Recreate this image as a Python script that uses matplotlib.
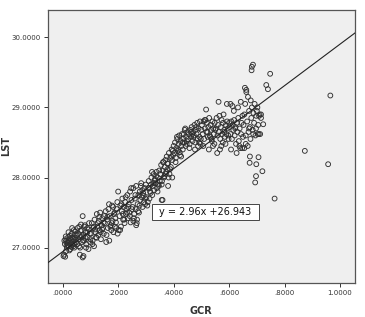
import matplotlib
matplotlib.use("Agg")
import matplotlib.pyplot as plt
from matplotlib.patches import Rectangle

# GCR / LST values, grouped by GCR band
gcr = [
    # .00 - .05
    0.005, 0.008, 0.010, 0.012, 0.015, 0.018, 0.020, 0.022, 0.025, 0.028, 0.030, 0.032, 0.035, 0.038, 0.040,
    0.042, 0.045, 0.048, 0.050, 0.003, 0.006, 0.011, 0.014, 0.017, 0.021, 0.024, 0.027, 0.031, 0.034, 0.037,
    0.041, 0.044, 0.047, 0.009, 0.013, 0.019, 0.026, 0.033, 0.039, 0.046,
    # .05 - .10
    0.052, 0.055, 0.058, 0.060, 0.063, 0.065, 0.068, 0.070, 0.072, 0.075, 0.078, 0.080, 0.083, 0.085, 0.088,
    0.090, 0.093, 0.095, 0.098, 0.100, 0.054, 0.059, 0.064, 0.069, 0.074, 0.079, 0.084, 0.089, 0.094, 0.099,
    0.062, 0.072, 0.075, 0.066, 0.082,
    # .10 - .15
    0.102, 0.105, 0.108, 0.110, 0.113, 0.115, 0.118, 0.120, 0.123, 0.125, 0.128, 0.130, 0.133, 0.135, 0.138,
    0.140, 0.143, 0.145, 0.148, 0.150, 0.107, 0.117, 0.127, 0.137, 0.147, 0.112, 0.122, 0.132, 0.142,
    # .15 - .20
    0.152, 0.155, 0.158, 0.160, 0.163, 0.165, 0.168, 0.170, 0.173, 0.175, 0.178, 0.180, 0.183, 0.185, 0.188,
    0.190, 0.193, 0.195, 0.198, 0.200, 0.157, 0.167, 0.177, 0.187, 0.197, 0.162, 0.172, 0.182, 0.192, 0.202,
    # .20 - .25
    0.205, 0.208, 0.210, 0.213, 0.215, 0.218, 0.220, 0.223, 0.225, 0.228, 0.230, 0.233, 0.235, 0.238, 0.240,
    0.243, 0.245, 0.248, 0.250, 0.207, 0.217, 0.227, 0.237, 0.247, 0.212, 0.222, 0.232, 0.242,
    # .25 - .30
    0.252, 0.255, 0.258, 0.260, 0.263, 0.265, 0.268, 0.270, 0.273, 0.275, 0.278, 0.280, 0.283, 0.285, 0.288,
    0.290, 0.293, 0.295, 0.298, 0.300, 0.257, 0.267, 0.277, 0.287, 0.297, 0.262, 0.272, 0.282, 0.292, 0.265,
    0.255,
    # .30 - .35
    0.302, 0.305, 0.308, 0.310, 0.313, 0.315, 0.318, 0.320, 0.323, 0.325, 0.328, 0.330, 0.333, 0.335, 0.338,
    0.340, 0.343, 0.345, 0.348, 0.350, 0.307, 0.317, 0.327, 0.337, 0.347, 0.312, 0.322, 0.332, 0.342, 0.357,
    # .35 - .40
    0.352, 0.355, 0.358, 0.360, 0.363, 0.365, 0.368, 0.370, 0.373, 0.375, 0.378, 0.380, 0.383, 0.385, 0.388,
    0.390, 0.393, 0.395, 0.398, 0.400, 0.357, 0.367, 0.377, 0.387, 0.397, 0.362, 0.372, 0.382, 0.392, 0.380,
    0.395, 0.360,
    # .40 - .45
    0.402, 0.405, 0.408, 0.410, 0.413, 0.415, 0.418, 0.420, 0.423, 0.425, 0.428, 0.430, 0.433, 0.435, 0.438,
    0.440, 0.443, 0.445, 0.448, 0.450, 0.407, 0.417, 0.427, 0.437, 0.447, 0.412, 0.422, 0.432, 0.442,
    # .45 - .50
    0.452, 0.455, 0.458, 0.460, 0.463, 0.465, 0.468, 0.470, 0.473, 0.475, 0.478, 0.480, 0.483, 0.485, 0.488,
    0.490, 0.493, 0.495, 0.498, 0.500, 0.457, 0.467, 0.477, 0.487, 0.497, 0.462, 0.472, 0.482, 0.492,
    # .50 - .55
    0.502, 0.505, 0.508, 0.510, 0.513, 0.515, 0.518, 0.520, 0.523, 0.525, 0.528, 0.530, 0.533, 0.535, 0.538,
    0.540, 0.543, 0.545, 0.548, 0.550, 0.507, 0.517, 0.527, 0.537, 0.547, 0.512, 0.522, 0.532, 0.542,
    # .55 - .60
    0.552, 0.555, 0.558, 0.560, 0.563, 0.565, 0.568, 0.570, 0.573, 0.575, 0.578, 0.580, 0.583, 0.585, 0.588,
    0.590, 0.593, 0.595, 0.598, 0.600, 0.557, 0.567, 0.577, 0.587, 0.597, 0.562, 0.572, 0.582, 0.592,
    # .60 - .65
    0.602, 0.605, 0.608, 0.610, 0.613, 0.615, 0.618, 0.620, 0.623, 0.625, 0.628, 0.630, 0.633, 0.635, 0.638,
    0.640, 0.643, 0.645, 0.648, 0.650, 0.607, 0.617, 0.627, 0.637, 0.647, 0.612, 0.622, 0.632, 0.642, 0.605,
    # .65 - .72
    0.652, 0.655, 0.658, 0.660, 0.662, 0.665, 0.668, 0.670, 0.672, 0.675, 0.678, 0.680, 0.682, 0.685, 0.688,
    0.690, 0.692, 0.695, 0.698, 0.700, 0.702, 0.705, 0.708, 0.710, 0.712, 0.715, 0.657, 0.662, 0.667, 0.672,
    0.677, 0.687, 0.697, 0.707, 0.655, 0.660,
    # outliers
    0.682, 0.686, 0.681, 0.748, 0.734, 0.740, 0.965, 0.873, 0.957, 0.764, 0.694, 0.697, 0.720, 0.698, 0.674,
    0.675, 0.706, 0.723, 0.703, 0.715,
]

lst = [
    26.90, 27.05, 27.12, 26.95, 27.00, 27.08, 27.15, 27.02, 27.10, 26.98, 27.06, 27.20, 27.04, 27.12, 27.25,
    27.00, 27.14, 27.08, 27.18, 26.88, 27.10, 27.16, 27.03, 27.07, 27.22, 26.96, 27.13, 27.01, 27.28, 27.09,
    27.05, 27.19, 27.11, 26.87, 27.09, 27.04, 27.17, 27.14, 27.02, 27.23,
    27.05, 27.20, 27.12, 27.30, 27.00, 27.15, 27.25, 27.08, 27.45, 27.18, 27.10, 27.32, 27.22, 27.05, 27.28,
    27.15, 26.98, 27.35, 27.20, 27.12, 27.28, 27.02, 27.24, 27.16, 27.10, 27.30, 27.00, 27.22, 27.26, 27.08,
    26.90, 26.86, 26.88, 27.33, 27.14,
    27.20, 27.35, 27.10, 27.28, 27.02, 27.40, 27.22, 27.15, 27.48, 27.30, 27.18, 27.38, 27.25, 27.50, 27.12,
    27.32, 27.42, 27.28, 27.20, 27.45, 27.05, 27.26, 27.35, 27.22, 27.36, 27.30, 27.14, 27.44, 27.26,
    27.35, 27.52, 27.18, 27.40, 27.28, 27.55, 27.10, 27.45, 27.32, 27.25, 27.60, 27.38, 27.22, 27.48, 27.30,
    27.42, 27.28, 27.55, 27.20, 27.80, 27.08, 27.62, 27.35, 27.50, 27.65, 27.44, 27.30, 27.58, 27.36, 27.25,
    27.45, 27.60, 27.30, 27.52, 27.70, 27.40, 27.58, 27.35, 27.65, 27.48, 27.55, 27.75, 27.42, 27.62, 27.50,
    27.80, 27.36, 27.68, 27.55, 27.25, 27.48, 27.72, 27.58, 27.85, 27.62, 27.40, 27.50, 27.45,
    27.58, 27.85, 27.48, 27.70, 27.55, 27.88, 27.40, 27.62, 27.75, 27.50, 27.80, 27.68, 27.92, 27.72, 27.58,
    27.78, 27.65, 27.85, 27.70, 27.90, 27.42, 27.35, 27.60, 27.82, 27.62, 27.75, 27.52, 27.88, 27.74, 27.32,
    27.38,
    27.72, 27.60, 27.85, 27.95, 27.70, 27.80, 27.90, 28.00, 27.75, 27.88, 28.05, 27.82, 27.98, 27.92, 28.08,
    27.85, 28.00, 27.90, 28.10, 27.95, 27.65, 27.78, 27.92, 28.02, 27.88, 27.85, 28.08, 27.96, 27.80, 27.68,
    28.05, 28.18, 27.95, 28.10, 28.22, 28.00, 28.15, 28.25, 28.08, 28.30, 28.12, 28.20, 28.35, 28.05, 28.28,
    28.15, 28.40, 28.25, 28.32, 28.45, 27.90, 28.02, 28.20, 28.12, 28.38, 28.22, 28.05, 28.00, 28.30, 27.88,
    28.00, 27.68,
    28.35, 28.50, 28.28, 28.42, 28.55, 28.38, 28.48, 28.60, 28.32, 28.52, 28.45, 28.62, 28.40, 28.55, 28.50,
    28.68, 28.45, 28.58, 28.52, 28.65, 28.22, 28.40, 28.30, 28.62, 28.48, 28.58, 28.36, 28.50, 28.70,
    28.55, 28.62, 28.48, 28.68, 28.58, 28.72, 28.52, 28.65, 28.60, 28.75, 28.50, 28.68, 28.62, 28.78, 28.45,
    28.70, 28.58, 28.80, 28.55, 28.68, 28.42, 28.62, 28.40, 28.55, 28.48, 28.65, 28.58, 28.72, 28.50,
    28.75, 28.62, 28.80, 28.55, 28.70, 28.82, 28.65, 28.78, 28.58, 28.72, 28.85, 28.60, 28.75, 28.68, 28.52,
    28.80, 28.70, 28.62, 28.78, 28.68, 28.45, 28.97, 28.40, 28.55, 28.48, 28.82, 28.65, 28.58, 28.45,
    28.70, 28.85, 28.60, 28.75, 28.65, 28.88, 28.55, 28.72, 28.82, 28.62, 28.78, 28.90, 28.68, 28.58, 28.75,
    28.62, 28.80, 28.70, 28.55, 28.78, 28.35, 28.40, 28.50, 28.48, 28.60, 29.08, 28.45, 28.65, 29.05,
    28.72, 28.62, 28.80, 28.55, 28.75, 28.68, 28.82, 28.60, 28.72, 28.48, 28.78, 28.65, 28.85, 28.52, 28.70,
    28.42, 28.62, 28.78, 28.88, 28.58, 28.40, 28.95, 28.35, 28.45, 28.42, 29.02, 28.70, 29.00, 29.08, 29.05,
    28.75, 28.90, 29.05, 28.60, 29.25, 28.80, 29.15, 28.65, 28.95, 28.72, 29.10, 28.85, 29.00, 28.68, 28.92,
    28.78, 29.05, 28.60, 28.88, 28.95, 29.00, 28.75, 28.88, 28.90, 28.62, 28.85, 29.28, 29.22, 28.45, 28.70,
    28.55, 28.62, 28.70, 28.62, 28.42, 28.48,
    29.58, 29.61, 29.53, 29.48, 29.32, 29.26, 29.17, 28.38, 28.19, 27.70, 27.93, 28.02, 28.09, 28.19, 28.21,
    28.30, 28.29, 28.76, 28.62, 28.90,
]

slope = 2.96
intercept = 26.943
x_ticks = [0.0, 0.2, 0.4, 0.6, 0.8, 1.0]
x_labels = ['.0000', '.2000', '.4000', '.6000', '.8000', '1.0000']
y_ticks = [27.0, 28.0, 29.0, 30.0]
y_labels = ['27.0000', '28.0000', '29.0000', '30.0000']

fig = plt.figure(figsize=(3.65, 3.17), dpi=100)
ax = fig.add_axes([0.1307, 0.1082, 0.842, 0.8603])
ax.set_facecolor('#efefef')

ax.scatter(gcr, lst, s=12, facecolors='none', edgecolors='#303030', linewidths=0.65, zorder=2)

xmin, xmax = -0.054, 1.054
ax.plot([xmin, xmax], [intercept + slope * xmin, intercept + slope * xmax], color='#222222', lw=0.8, zorder=3)

ax.set_xlim(xmin, xmax)
ax.set_ylim(26.5, 30.39)
ax.set_xticks(x_ticks)
ax.set_xticklabels(x_labels)
ax.set_yticks(y_ticks)
ax.set_yticklabels(y_labels)
ax.tick_params(labelsize=5, length=3, width=0.7, colors='#333333', pad=2)

for sp in ax.spines.values():
    sp.set_color('#555555')
    sp.set_linewidth(0.9)

ax.set_xlabel('GCR', fontsize=7, fontweight='bold', color='#333333')
ax.xaxis.set_label_coords(0.5, -0.085)
ax.set_ylabel('LST', fontsize=7, fontweight='bold', color='#333333')
ax.yaxis.set_label_coords(-0.118, 0.5)

# equation box
ax.add_patch(Rectangle((0.338, 0.229), 0.350, 0.061, transform=ax.transAxes,
                       facecolor='white', edgecolor='#444444', lw=0.7, zorder=4))
ax.text(0.513, 0.259, 'y = 2.96x +26.943', transform=ax.transAxes, ha='center', va='center',
        fontsize=7, color='#111111', zorder=5)

fig.savefig('out.png', dpi=100)
